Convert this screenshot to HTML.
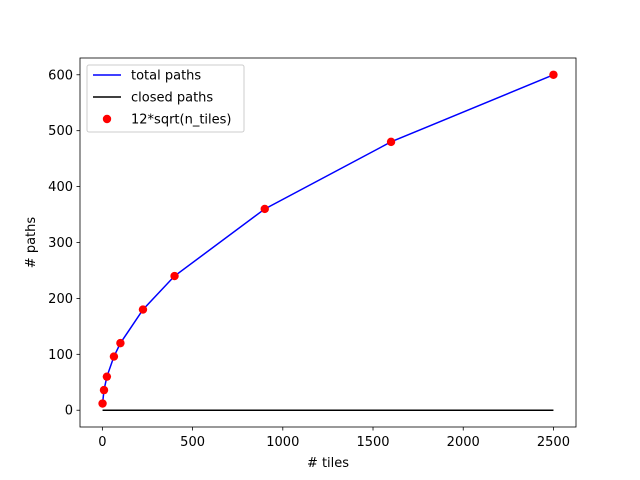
<!DOCTYPE html>
<html><head><meta charset="utf-8"><style>body{margin:0;background:#fff}svg{display:block;font-family:"DejaVu Sans","Liberation Sans",sans-serif}</style></head>
<body>
<svg id="chart" width="640" height="480">
<rect x="0" y="0" width="640" height="480" fill="#fff"/>
<g id="plot"></g>
</svg>
<script>
const nTiles = [1, 9, 25, 64, 100, 225, 400, 900, 1600, 2500];
const totalPaths = [12, 36, 60, 96, 120, 180, 240, 360, 480, 600];
const closedPaths = [0, 0, 0, 0, 0, 0, 0, 0, 0, 0];
const sqrtFit = [12, 36, 60, 96, 120, 180, 240, 360, 480, 600];
const xTicks = [0, 500, 1000, 1500, 2000, 2500];
const yTicks = [0, 100, 200, 300, 400, 500, 600];

const L=80,R=576,T=58,B=427;
const xmin=-124,xmax=2625,ymin=-30,ymax=630;
const sx=v=>L+(v-xmin)/(xmax-xmin)*(R-L);
const sy=v=>B-(v-ymin)/(ymax-ymin)*(B-T);
const g=document.getElementById('plot');
const NS='http://www.w3.org/2000/svg';
function mk(tag,attrs){const e=document.createElementNS(NS,tag);for(const k in attrs)e.setAttribute(k,attrs[k]);g.appendChild(e);return e;}

function line(vals,color,name){
  const p=mk('polyline',{points:nTiles.map((x,i)=>sx(x)+','+sy(vals[i])).join(' '),fill:'none',stroke:color,'stroke-width':1.5});
  
  
}
line(totalPaths,'#0000ff','total-paths-line');
line(closedPaths,'#000000','closed-paths-line');
sqrtFit.forEach((v,i)=>{
  const c=mk('circle',{cx:sx(nTiles[i]),cy:sy(v),r:4.2,fill:'#ff0000'});
  
  
});
const frame=mk('rect',{x:L,y:T,width:R-L,height:B-T,fill:'none',stroke:'#000','stroke-width':0.8});



xTicks.forEach(t=>{
  const x=sx(t);
  mk('line',{x1:x,x2:x,y1:B,y2:B+3.5,stroke:'#000','stroke-width':0.8});
  const tx=mk('text',{x:x,y:B+19,'font-size':13,'text-anchor':'middle'});
  tx.textContent=t;
  
  
});
yTicks.forEach(t=>{
  const y=sy(t);
  mk('line',{x1:L-3.5,x2:L,y1:y,y2:y,stroke:'#000','stroke-width':0.8});
  const tx=mk('text',{x:L-7,y:y+4.5,'font-size':13,'text-anchor':'end'});
  tx.textContent=t;
  
  
});
const xt=mk('text',{x:(L+R)/2,y:467,'font-size':13,'text-anchor':'middle'});
xt.textContent='# tiles';


const yt=mk('text',{x:35,y:(T+B)/2,'font-size':13,'text-anchor':'middle',transform:'rotate(-90 35 '+((T+B)/2)+')'});
yt.textContent='# paths';



const lg=mk('rect',{x:87,y:65,width:157,height:67,fill:'#fff',stroke:'#ccc','stroke-width':1,rx:2});


const entries=[['total paths','#0000ff','line'],['closed paths','#000','line'],['12*sqrt(n_tiles)','#ff0000','dot']];
entries.forEach((e,i)=>{
  const y=75+i*22;
  if(e[2]==='line') mk('line',{x1:93,x2:121,y1:y,y2:y,stroke:e[1],'stroke-width':1.5});
  else mk('circle',{cx:107,cy:y,r:4.2,fill:e[1]});
  const tx=mk('text',{x:131,y:y+4.5,'font-size':13});
  tx.textContent=e[0];
  
  
});
</script>
</body></html>
